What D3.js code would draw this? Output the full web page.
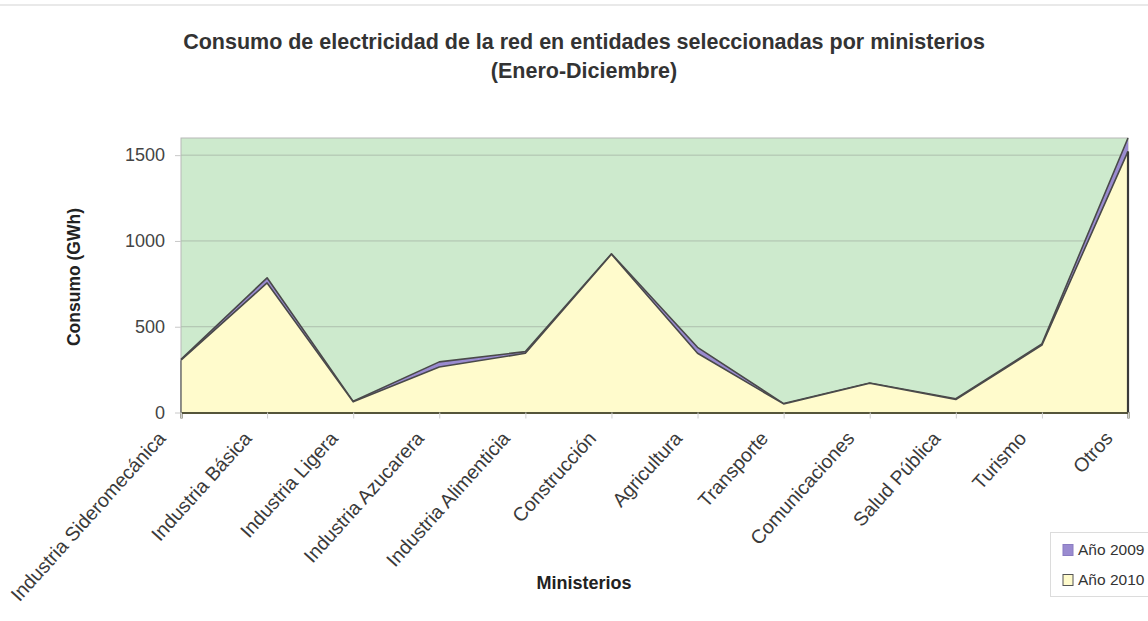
<!DOCTYPE html>
<html>
<head>
<meta charset="utf-8">
<script src="https://cdn.jsdelivr.net/npm/d3@7"></script>
<style>
  html, body { margin: 0; padding: 0; background: #fff; }
  svg { display: block; font-family: "Liberation Sans", Arial, sans-serif; }
</style>
</head>
<body>
<svg id="chart" width="1148" height="621"></svg>
<script>
// Ministries on the x axis
const categories = [
  "Industria Sideromecánica", "Industria Básica", "Industria Ligera",
  "Industria Azucarera", "Industria Alimenticia", "Construcción",
  "Agricultura", "Transporte", "Comunicaciones", "Salud Pública",
  "Turismo", "Otros"
];
// Consumption (GWh), January–December
const values2009 = [310, 785, 65, 295, 355, 925, 380, 52, 172, 80, 400, 1600];
const values2010 = [305, 755, 62, 265, 345, 922, 345, 50, 170, 76, 393, 1522];
const yTicks = [0, 500, 1000, 1500];
const seriesNames = ["Año 2009", "Año 2010"];

const svg = d3.select("#chart");
const plotLeft = 181, plotRight = 1128, plotTop = 138, plotBottom = 412.5;

const x = d3.scalePoint().domain(categories).range([plotLeft, plotRight]);
const y = d3.scaleLinear().domain([0, 1600]).range([plotBottom, plotTop]);

// thin rule across the top of the page
svg.append("line").attr("x1", 0).attr("x2", 1148).attr("y1", 5).attr("y2", 5)
  .attr("stroke", "#e2e2e2").attr("stroke-width", 1.5);

// title
const title = svg.append("text").attr("text-anchor", "middle")
  .attr("font-weight", "bold").attr("font-size", 21.5).attr("fill", "#333");
title.append("tspan").attr("x", 584).attr("y", 49)
  .text("Consumo de electricidad de la red en entidades seleccionadas por ministerios");
title.append("tspan").attr("x", 584).attr("y", 78).text("(Enero-Diciembre)");

// plot background
svg.append("rect").attr("x", plotLeft).attr("y", plotTop)
  .attr("width", plotRight - plotLeft).attr("height", plotBottom - plotTop)
  .attr("fill", "#cdeacd").attr("stroke", "#b8b8b8").attr("stroke-width", 1);

// horizontal grid
svg.append("g").selectAll("line").data(yTicks.filter(d => d > 0)).join("line")
  .attr("x1", plotLeft).attr("x2", plotRight)
  .attr("y1", d => y(d)).attr("y2", d => y(d))
  .attr("stroke", "#aebfae").attr("stroke-width", 1);

// overlapping areas: 2009 behind, 2010 in front
const series = [
  { name: seriesNames[0], values: values2009, fill: "#9a8bd0" },
  { name: seriesNames[1], values: values2010, fill: "#fffbcc" }
];
const area = d3.area()
  .x((d, i) => x(categories[i]))
  .y0(y(0))
  .y1(d => y(d));
const line = d3.line()
  .x((d, i) => x(categories[i]))
  .y(d => y(d));

const plot = svg.append("g");
plot.append("clipPath").attr("id", "clip").append("rect")
  .attr("x", plotLeft - 2).attr("y", plotTop - 1)
  .attr("width", plotRight - plotLeft + 4).attr("height", plotBottom - plotTop + 3);
const areas = plot.append("g").attr("clip-path", "url(#clip)");
series.forEach(s => {
  areas.append("path").datum(s.values)
    .attr("d", area).attr("fill", s.fill);
  areas.append("path").datum(s.values)
    .attr("d", line).attr("fill", "none")
    .attr("stroke", "#4a4a4a").attr("stroke-width", 1.6).attr("stroke-linejoin", "round");
});
// side edges of the front area
areas.append("line").attr("x1", plotRight).attr("x2", plotRight)
  .attr("y1", y(values2010[values2010.length - 1])).attr("y2", y(0))
  .attr("stroke", "#3a3a3a").attr("stroke-width", 2.2);
areas.append("line").attr("x1", plotLeft).attr("x2", plotLeft)
  .attr("y1", y(values2010[0])).attr("y2", y(0))
  .attr("stroke", "#666").attr("stroke-width", 1.4);

// x axis
const xAxis = svg.append("g").attr("transform", `translate(0,${plotBottom})`)
  .call(d3.axisBottom(x).tickSize(6).tickPadding(10));
xAxis.select(".domain").attr("stroke", "#55553a").attr("stroke-width", 2);
xAxis.selectAll(".tick line").attr("stroke", "#d0d0d0");
xAxis.selectAll(".tick text")
  .attr("font-size", 19.5).attr("fill", "#3a3a3a")
  .attr("font-family", "\"Liberation Sans\", Arial, sans-serif")
  .attr("text-anchor", "end")
  .attr("transform", "translate(-30,5) rotate(-48)")
  .attr("dx", "-0.3em").attr("dy", "0.5em");

// y axis
const yAxis = svg.append("g").attr("transform", `translate(${plotLeft},0)`)
  .call(d3.axisLeft(y).tickValues(yTicks).tickFormat(d3.format("d")).tickSize(6).tickPadding(10));
yAxis.select(".domain").remove();
yAxis.selectAll(".tick line").attr("stroke", "#c8c8c8");
yAxis.selectAll(".tick text")
  .attr("font-size", 18).attr("fill", "#444")
  .attr("font-family", "\"Liberation Sans\", Arial, sans-serif");

// axis titles
svg.append("text").attr("transform", "translate(80,277) rotate(-90)")
  .attr("text-anchor", "middle").attr("font-weight", "bold")
  .attr("font-size", 17.5).attr("fill", "#222").text("Consumo (GWh)");
svg.append("text").attr("x", 584).attr("y", 589)
  .attr("text-anchor", "middle").attr("font-weight", "bold")
  .attr("font-size", 18).attr("fill", "#222").text("Ministerios");

// legend
const legend = svg.append("g");
legend.append("rect").attr("x", 1050.5).attr("y", 532.5)
  .attr("width", 110).attr("height", 64)
  .attr("fill", "#fff").attr("stroke", "#dcdcdc");
const item = legend.selectAll("g.item").data(series).join("g")
  .attr("class", "item")
  .attr("transform", (d, i) => `translate(1063,${550 + i * 30})`);
item.append("rect").attr("x", 0).attr("y", -5.5).attr("width", 10).attr("height", 11)
  .attr("fill", d => d.fill).attr("stroke", (d, i) => i === 0 ? "#8a7cc2" : "#555")
  .attr("stroke-width", 1);
item.append("text").attr("x", 15).attr("y", 0).attr("dy", "0.35em")
  .attr("font-size", 15.5).attr("fill", "#333").text(d => d.name);
</script>
</body>
</html>
